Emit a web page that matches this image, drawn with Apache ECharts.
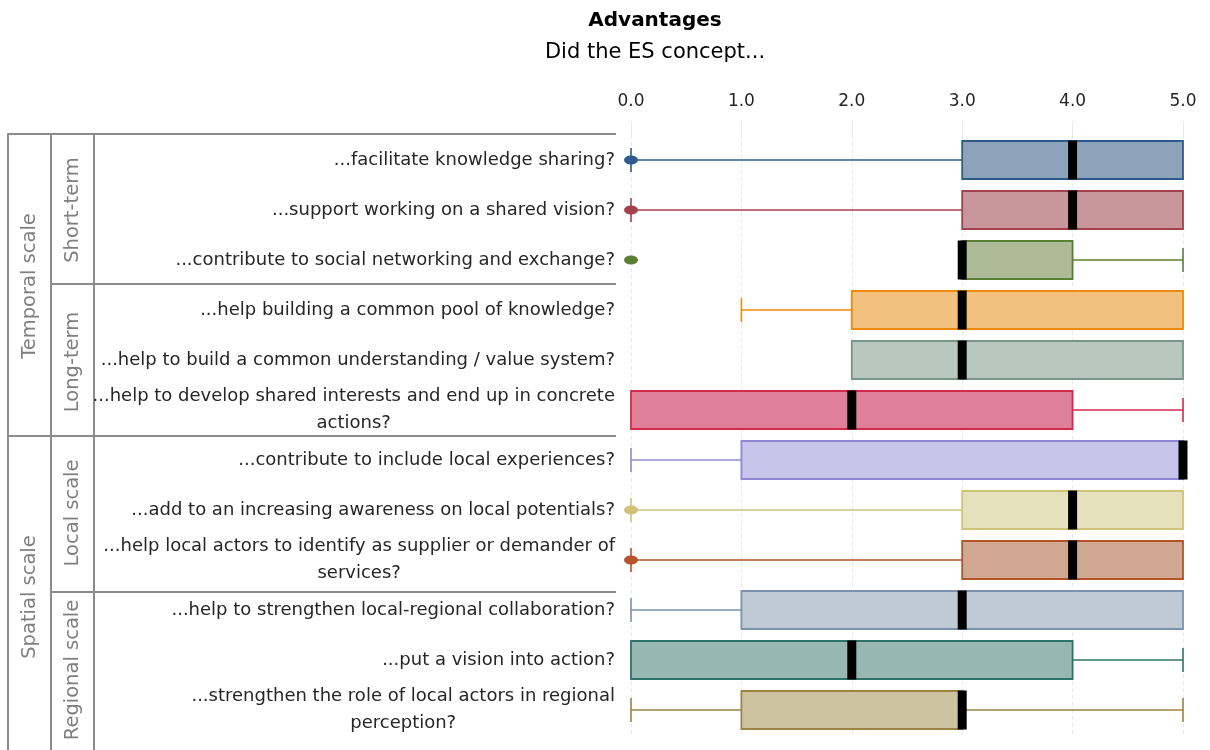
<!DOCTYPE html>
<html>
<head>
<meta charset="utf-8">
<script src="https://cdn.jsdelivr.net/npm/echarts@6/dist/echarts.min.js"></script>
<style>
html,body{margin:0;padding:0;background:#fff;}
#chart{width:1210px;height:750px;}
</style>
</head>
<body>
<div id="chart"></div>
<script>
// ---- Data ----
const categories = [
  '...facilitate knowledge sharing?',
  '...support working on a shared vision?',
  '...contribute to social networking and exchange?',
  '...help building a common pool of knowledge?',
  '...help to build a common understanding / value system?',
  '...help to develop shared interests and end up in concrete\nactions?',
  '...contribute to include local experiences?',
  '...add to an increasing awareness on local potentials?',
  '...help local actors to identify as supplier or demander of\nservices?',
  '...help to strengthen local-regional collaboration?',
  '...put a vision into action?',
  '...strengthen the role of local actors in regional\nperception?'
];
const minValues    = [0, 0, 3, 1, 2, 0, 0, 0, 0, 0, 0, 0];
const q1Values     = [3, 3, 3, 2, 2, 0, 1, 3, 3, 1, 0, 1];
const medianValues = [4, 4, 3, 3, 3, 2, 5, 4, 4, 3, 2, 3];
const q3Values     = [5, 5, 4, 5, 5, 4, 5, 5, 5, 5, 4, 3];
const maxValues    = [5, 5, 5, 5, 5, 5, 5, 5, 5, 5, 5, 5];
const outlierRows   = [0, 1, 2, 7, 8];
const outlierValues = [0, 0, 0, 0, 0];
const xTickLabels = ['0.0', '1.0', '2.0', '3.0', '4.0', '5.0'];

// ---- Styles ----
const fillColors = ['#8DA3B9','#C9979B','#ADBB96','#F2C07F','#B8C8C1','#E07F98',
                    '#C9C4E9','#E5E1BC','#D0A791','#BFCAD5','#97B7B3','#CEC3A1'];
const lineColors = ['#2F5C8A','#A3424D','#5B7F33','#F08A0C','#7A948A','#D42A4C',
                    '#9088D6','#CFC37A','#B3542A','#7A92AE','#2F7468','#9C8544'];
const FONT = '"DejaVu Sans", "Noto Sans", sans-serif';

const boxData = categories.map((c, i) => [i, minValues[i], q1Values[i], medianValues[i], q3Values[i], maxValues[i]]);
const outlierData = outlierRows.map((r, k) => [outlierValues[k], r]);

function renderBox(params, api) {
  const i = api.value(0);
  const vMin = api.value(1), vQ1 = api.value(2), vMed = api.value(3), vQ3 = api.value(4), vMax = api.value(5);
  const band = api.size([0, 1])[1];
  const boxH = band * 0.76;
  const capH = 24;
  const pMin = api.coord([vMin, i]), pQ1 = api.coord([vQ1, i]), pMed = api.coord([vMed, i]);
  const pQ3 = api.coord([vQ3, i]), pMax = api.coord([vMax, i]);
  const cy = pQ1[1];
  const stroke = lineColors[i], fill = fillColors[i];
  const children = [];
  const lineStyle = {stroke: stroke, lineWidth: 1.6, fill: null};
  if (vMin < vQ1) {
    children.push({type: 'line', shape: {x1: pMin[0], y1: cy, x2: pQ1[0], y2: cy}, style: lineStyle});
    children.push({type: 'line', shape: {x1: pMin[0], y1: cy - capH / 2, x2: pMin[0], y2: cy + capH / 2}, style: lineStyle});
  }
  if (vMax > vQ3) {
    children.push({type: 'line', shape: {x1: pQ3[0], y1: cy, x2: pMax[0], y2: cy}, style: lineStyle});
    children.push({type: 'line', shape: {x1: pMax[0], y1: cy - capH / 2, x2: pMax[0], y2: cy + capH / 2}, style: lineStyle});
  }
  children.push({type: 'rect',
    shape: {x: pQ1[0], y: cy - boxH / 2, width: pQ3[0] - pQ1[0], height: boxH},
    style: {fill: fill, stroke: stroke, lineWidth: 1.8}});
  children.push({type: 'rect',
    shape: {x: pMed[0] - 4.5, y: cy - boxH / 2 - 0.5, width: 9, height: boxH + 1},
    style: {fill: '#000'}});
  return {type: 'group', children: children};
}

// ---- Table decoration (left hierarchy) ----
const tableLine = {stroke: '#8C8C8C', lineWidth: 2};
const graphics = [
  {type: 'line', shape: {x1: 7, y1: 134, x2: 616, y2: 134}, style: tableLine},
  {type: 'line', shape: {x1: 7, y1: 436, x2: 616, y2: 436}, style: tableLine},
  {type: 'line', shape: {x1: 51, y1: 284, x2: 616, y2: 284}, style: tableLine},
  {type: 'line', shape: {x1: 51, y1: 592, x2: 616, y2: 592}, style: tableLine},
  {type: 'line', shape: {x1: 8, y1: 133, x2: 8, y2: 750}, style: tableLine},
  {type: 'line', shape: {x1: 51, y1: 133, x2: 51, y2: 750}, style: tableLine},
  {type: 'line', shape: {x1: 94, y1: 133, x2: 94, y2: 750}, style: tableLine}
];
const groupLabels = [
  ['Temporal scale', 30, 286], ['Spatial scale', 30, 597],
  ['Short-term', 73, 210], ['Long-term', 73, 362],
  ['Local scale', 73, 513], ['Regional scale', 73, 670]
];
groupLabels.forEach(g => graphics.push({
  type: 'text', x: g[1], y: g[2], rotation: Math.PI / 2,
  style: {text: g[0], fill: '#7F7F7F', font: '19.5px ' + FONT, textAlign: 'center', textVerticalAlign: 'middle'}
}));

const chart = echarts.init(document.getElementById('chart'));
chart.setOption({
  animation: false,
  backgroundColor: '#fff',
  title: {
    text: 'Advantages',
    subtext: 'Did the ES concept...',
    left: 650, top: 6, textAlign: 'center',
    textStyle: {fontFamily: FONT, fontSize: 20, fontWeight: 'bold', color: '#000'},
    subtextStyle: {fontFamily: FONT, fontSize: 21, color: '#000'},
    itemGap: 11
  },
  grid: {left: 631, right: 27, top: 135, bottom: 15},
  xAxis: {
    type: 'value', position: 'top', min: 0, max: 5, interval: 1,
    axisLine: {show: false},
    axisTick: {show: true, length: 14, lineStyle: {color: '#E0ECF1'}},
    axisLabel: {margin: 25, fontFamily: FONT, fontSize: 17, color: '#262626',
      formatter: v => xTickLabels[Math.round(v)]},
    splitLine: {show: true, lineStyle: {color: '#E0ECF1', type: [4, 3], width: 1}}
  },
  yAxis: {
    type: 'category', inverse: true, data: categories,
    axisLine: {show: false}, axisTick: {show: false},
    axisLabel: {
      margin: 16, align: 'right', color: '#262626', fontFamily: FONT, fontSize: 18,
      formatter: v => v.split('\n').map(s => '{c|' + s + '}').join('\n'),
      rich: {c: {align: 'center', fontFamily: FONT, fontSize: 18, color: '#262626', lineHeight: 27}}
    },
    splitLine: {show: false}
  },
  graphic: graphics,
  series: [
    {type: 'custom', renderItem: renderBox, data: boxData,
     encode: {x: [1, 2, 3, 4, 5], y: 0}, z: 2},
    {type: 'scatter', data: outlierData, symbol: 'circle', symbolSize: [14, 9], z: 5,
     itemStyle: {color: p => lineColors[p.value[1]], opacity: 1}}
  ]
});
</script>
</body>
</html>
